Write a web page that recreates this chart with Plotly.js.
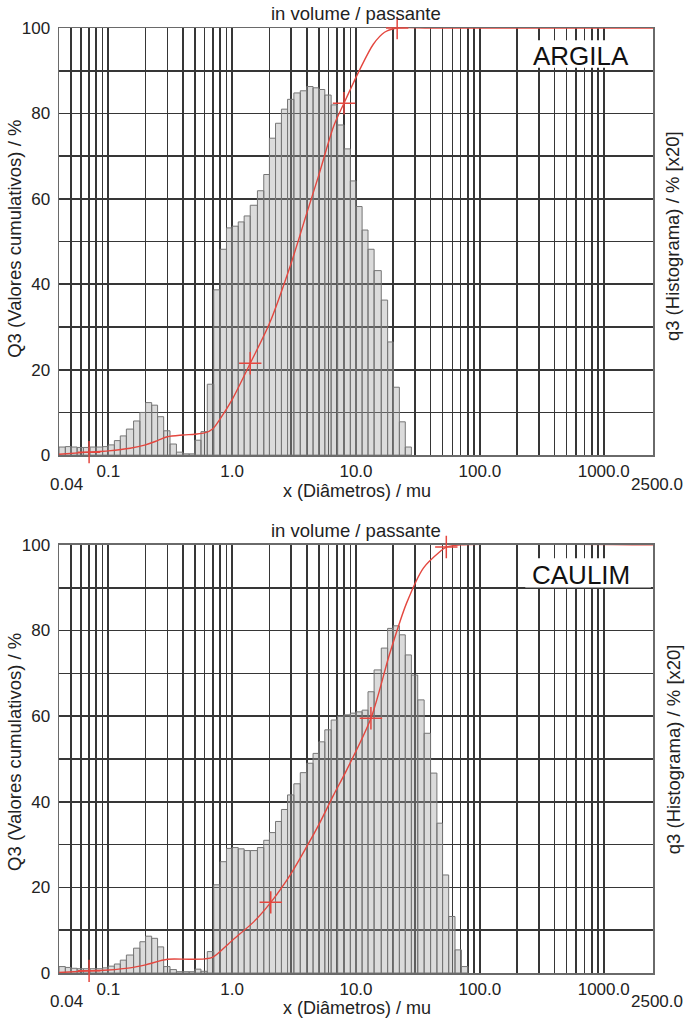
<!DOCTYPE html>
<html>
<head>
<meta charset="utf-8">
<script src="https://cdn.plot.ly/plotly-3.0.1.min.js"></script>
<style>html,body{margin:0;padding:0;background:#fff;}#chart{width:689px;height:1021px;}</style>
</head>
<body>
<div id="chart"></div>
<script>
// ---- data ----
const binEdges = [0.04,0.045,0.05,0.056,0.063,0.071,0.08,0.09,0.1,0.112,0.125,0.14,0.16,0.18,0.2,0.224,0.25,0.28,0.315,0.355,0.4,0.45,0.5,0.56,0.63,0.71,0.8,0.9,1.0,1.12,1.25,1.4,1.6,1.8,2.0,2.24,2.5,2.8,3.15,3.55,4.0,4.5,5.0,5.6,6.3,7.1,8.0,9.0,10,11.2,12.5,14,16,18,20,22.4,25,28,31.5,35.5,40,45,50,56,63,71,80];

const argilaHist = [1.9,2.0,1.9,1.8,1.8,1.9,1.9,2.0,2.4,3.4,4.5,6.1,8.0,10.0,12.3,11.7,9.0,5.7,2.6,0.7,0.3,0.3,3.5,5.5,16.6,38.7,48.2,53.2,53.6,54.6,56.0,58.5,61.9,65.7,74.2,77.7,81.0,83.3,84.8,85.3,86.3,86.0,85.6,84.3,82.0,77.3,71.7,64.2,58.2,52.7,48.2,43.2,36.3,26.5,15.9,7.8,1.9,0,0,0,0,0,0,0,0,0];

const caulimHist = [1.5,1.3,1.1,1.0,1.0,1.0,1.0,1.2,1.6,2.1,3.0,4.2,5.8,7.3,8.6,8.1,6.1,1.5,0.8,0.3,0.3,0.3,0.9,0.4,5.0,20.6,26.0,29.1,29.3,29.0,28.6,28.6,29.3,31.0,32.8,35.4,38.2,41.6,44.2,46.8,49.0,51.3,54.0,56.8,59.1,60.0,60.3,60.7,61.0,61.4,65.7,70.8,75.9,80.5,81.1,79.0,74.3,69.6,63.8,56.0,46.7,35.0,22.9,13.2,5.4,1.5];

const argilaCumX = [0.04,0.07,0.1,0.15,0.2,0.25,0.3,0.4,0.5,0.6,0.7,0.8,1.0,1.4,2.0,3.0,4.0,5.0,6.6,8.0,10.7,13.8,17,21.5,40,2500];
const argilaCumY = [0.2,0.7,1.0,1.6,2.4,3.4,4.3,4.7,4.9,5.2,6.2,8.5,13.0,21.5,30.8,45.0,56.6,65.5,77.0,82.4,90.2,96.2,99.0,100,100,100];
const argilaMarkX = [0.07,1.4,8.0,21.5];
const argilaMarkY = [0.7,21.5,82.4,100];

const caulimCumX = [0.04,0.07,0.1,0.15,0.2,0.3,0.45,0.6,0.7,1.0,1.5,2.05,3.0,4.0,5.0,6.6,8.4,13.2,18.8,25.6,35,47.5,53.6,70,2500];
const caulimCumY = [0.1,0.5,0.7,1.2,1.9,3.2,3.2,3.3,3.7,7.6,12.0,16.5,23.3,29.5,34.6,41.6,47.4,59.5,74.8,86.4,94.6,98.4,99.5,100,100];
const caulimMarkX = [0.07,2.05,13.2,53.6];
const caulimMarkY = [0.5,16.5,59.5,99.5];

const gridX = [0.04,0.05,0.06,0.07,0.08,0.09,0.1,0.2,0.3,0.4,0.5,0.6,0.7,0.8,0.9,1,2,3,4,5,6,7,8,9,10,20,30,40,50,60,70,80,90,100,200,300,400,500,600,700,800,900,1000];
const labelVals = [0.1,1,10,100,1000];
const labelText = ['0.1','1.0','10.0','100.0','1000.0'];
const endVals = [0.04,2500];
const endText = ['0.04','2500.0'];
const gridY = [0,10,20,30,40,50,60,70,80,90,100];
const gridYText = ['0','','20','','40','','60','','80','','100'];
const sampleNames = ['ARGILA','CAULIM'];
const titleTop = 'in volume / passante';
const titleX = 'x (Diâmetros) / mu';
const titleYL = 'Q3 (Valores cumulativos) / %';
const titleYR = 'q3 (Histograma) / % [x20]';

// ---- helpers ----
function barPath(edges, h){
  const xs=[], ys=[];
  for(let i=0;i<h.length;i++){
    if(!(h[i]>0)) continue;
    const a=edges[i], b=edges[i+1];
    xs.push(a,a,b,b,a,null); ys.push(0,h[i],h[i],0,0,null);
  }
  return {xs, ys};
}
const tickText = gridX.map(v => { const k = labelVals.indexOf(v); return k>=0 ? labelText[k] : ''; });

const RED = '#e4473f';
const GRID = '#363636';
const FONT = 'Liberation Sans, Arial, Helvetica, sans-serif';

function traces(hist, cx, cy, mx, my, xa, ya){
  const p = barPath(binEdges, hist);
  return [
    {type:'scatter', mode:'lines', x:p.xs, y:p.ys, xaxis:xa, yaxis:ya, fill:'toself',
     fillcolor:'rgba(160,160,160,0.38)', line:{color:'#767676', width:1}, hoverinfo:'skip', connectgaps:false},
    {type:'scatter', mode:'lines', x:cx, y:cy, xaxis:xa, yaxis:ya, cliponaxis:false,
     line:{color:RED, width:1.4, shape:'spline', smoothing:0.8}},
    {type:'scatter', mode:'markers', x:mx, y:my, xaxis:xa, yaxis:ya, cliponaxis:false,
     marker:{symbol:'cross-thin-open', size:16, color:RED, line:{color:RED, width:1.5}}}
  ];
}

const data = [].concat(
  traces(argilaHist, argilaCumX, argilaCumY, argilaMarkX, argilaMarkY, 'x', 'y'),
  traces(caulimHist, caulimCumX, caulimCumY, caulimMarkX, caulimMarkY, 'x2', 'y2')
);

function xax(anchor){
  return {type:'log', range:[Math.log10(endVals[0]), Math.log10(endVals[1])], anchor:anchor,
    tickmode:'array', tickvals:gridX, ticktext:tickText, ticks:'', showgrid:true,
    gridcolor:GRID, gridwidth:1.6, showline:true, mirror:true, linecolor:'#6a6a6a', linewidth:1.5,
    zeroline:false, tickfont:{size:17, color:'#222'}, layer:'below traces', fixedrange:true};
}
function yax(anchor, dom){
  return {domain:dom, range:[0,100], anchor:anchor, tickmode:'array', tickvals:gridY, ticktext:gridYText,
    ticks:'', showgrid:true, gridcolor:GRID, gridwidth:1.6, showline:true, mirror:true,
    linecolor:'#6a6a6a', linewidth:1.5, zeroline:false, tickfont:{size:17, color:'#222'},
    ticklabelstandoff:4, layer:'below traces', fixedrange:true};
}

const domTop = [0.548, 1.0], domBot = [0.0, 0.453];
const ann = [];
function A(o){ ann.push(Object.assign({xref:'paper', yref:'paper', showarrow:false, xanchor:'center', yanchor:'middle', font:{size:18.5}}, o)); }
function panelAnn(dom, name, nameY, xTitleY, endY, yCenter){
  A({text:titleTop, x:0.5, y:dom[1], yanchor:'bottom', yshift:2});
  A({text:name, x:0.879, y:nameY, font:{size:26, color:'#111'}});
  A({text:titleX, x:0.502, y:xTitleY, font:{size:18}});
  A({text:endText[0], x:0.013, y:endY, font:{size:17}});
  A({text:endText[1], x:1.006, y:endY, font:{size:17}});
  A({text:titleYL, x:-0.074, y:yCenter, textangle:-90});
  A({text:titleYR, x:1.034, y:yCenter+0.003, textangle:-90});
}
panelAnn(domTop, sampleNames[0], 0.970, 0.5105, 0.5165, 0.777);
panelAnn(domBot, sampleNames[1], 0.421, -0.0375, -0.030, 0.234);

const shapes = [
  {type:'rect', xref:'paper', yref:'paper', x0:0.785, x1:0.9965, y0:0.958, y1:0.987, fillcolor:'#ffffff', line:{width:0}, layer:'above'},
  {type:'rect', xref:'paper', yref:'paper', x0:0.785, x1:0.9965, y0:0.408, y1:0.439, fillcolor:'#ffffff', line:{width:0}, layer:'above'}
];

const layout = {
  width:689, height:1021, margin:{l:59, r:36, t:28, b:48},
  paper_bgcolor:'#ffffff', plot_bgcolor:'#ffffff', showlegend:false,
  font:{family:FONT, size:17, color:'#222'},
  xaxis:xax('y'), yaxis:yax('x', domTop),
  xaxis2:xax('y2'), yaxis2:yax('x2', domBot),
  annotations:ann, shapes:shapes
};

Plotly.newPlot('chart', data, layout, {staticPlot:true, displayModeBar:false});
</script>
</body>
</html>
